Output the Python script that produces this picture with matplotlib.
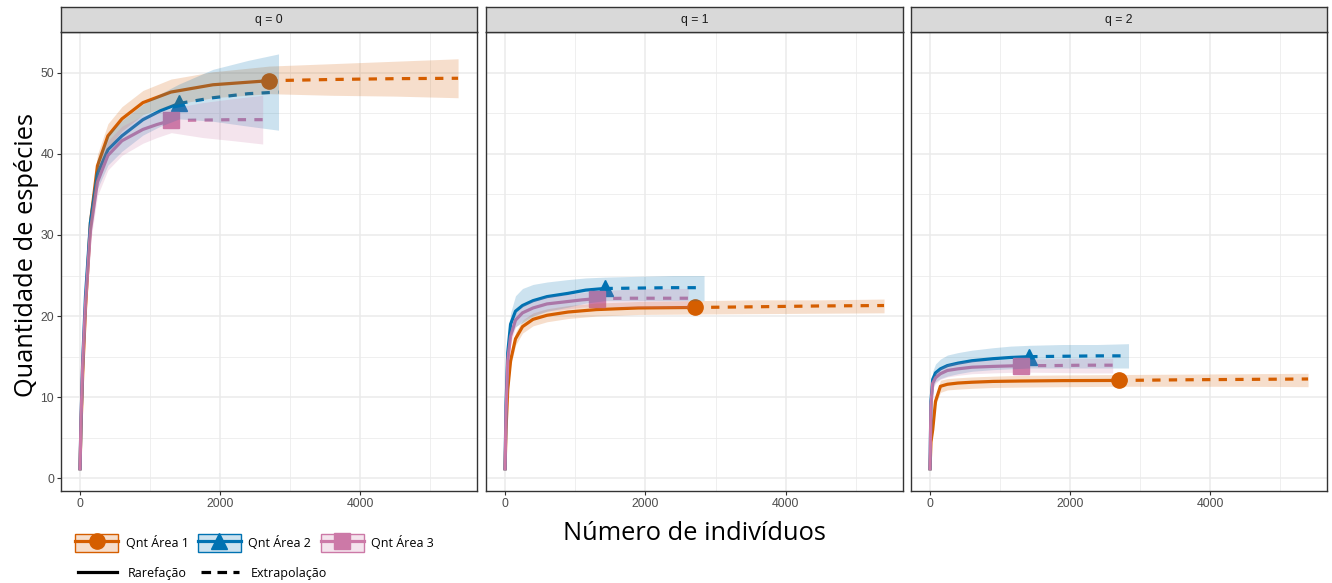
import numpy as np
import matplotlib
matplotlib.use("Agg")
import matplotlib.pyplot as plt
from matplotlib.lines import Line2D
from matplotlib.patches import Patch
from matplotlib.legend_handler import HandlerTuple
from matplotlib.ticker import MultipleLocator

# tamanhos de amostra (eixo x) de cada área; o índice marca a amostra observada
x_a1 = [1, 15, 40, 80, 150, 250, 400, 600, 900, 1300, 1900, 2700, 3600, 4500, 5400]
x_a2 = [1, 15, 40, 80, 150, 250, 400, 600, 900, 1150, 1418, 1900, 2400, 2836]
x_a3 = [1, 15, 40, 80, 150, 250, 400, 600, 900, 1100, 1305, 1750, 2200, 2610]
obs_idx = [11, 10, 10]

areas = ["Qnt Área 1", "Qnt Área 2", "Qnt Área 3"]
q_labels = ["q = 0", "q = 1", "q = 2"]

# q = 0 (estimativa, limite inferior, limite superior) para Área 1, 2, 3
est_q0 = [[1, 6, 13, 21, 31.5, 38.5, 42.2, 44.3, 46.3, 47.6, 48.5, 49.0, 49.15, 49.25, 49.3],
          [1, 7, 14.5, 22.5, 31.5, 37.5, 40.5, 42.2, 44.2, 45.3, 46.2, 46.9, 47.4, 47.6],
          [1, 7, 14, 21.5, 30.5, 36.5, 39.8, 41.6, 43.0, 43.6, 44.1, 44.15, 44.2, 44.2]]
lo_q0 = [[1, 5.6, 12.2, 19.9, 30.2, 37.1, 40.7, 42.8, 44.8, 46.0, 46.9, 47.4, 47.2, 47.1, 46.9],
         [1, 6.5, 13.6, 21.2, 29.9, 35.7, 38.6, 40.3, 42.3, 43.4, 44.3, 44.0, 43.4, 42.9],
         [1, 6.5, 13.1, 20.3, 29.0, 34.8, 38.0, 39.8, 41.3, 42.0, 42.6, 42.0, 41.6, 41.2]]
hi_q0 = [[1, 6.4, 13.8, 22.1, 32.8, 39.9, 43.7, 45.8, 47.8, 49.2, 50.1, 50.8, 51.1, 51.4, 51.7],
         [1, 7.5, 15.4, 23.8, 33.1, 39.3, 42.4, 44.1, 46.1, 47.4, 48.6, 50.4, 51.5, 52.3],
         [1, 7.5, 14.9, 22.7, 32.0, 38.2, 41.6, 43.4, 44.7, 45.2, 45.6, 46.3, 46.8, 47.2]]

# q = 1
est_q1 = [[1, 6, 11, 14.5, 17.2, 18.7, 19.6, 20.1, 20.5, 20.8, 21.0, 21.06, 21.15, 21.25, 21.3],
          [1, 9, 15.5, 19, 20.6, 21.3, 21.9, 22.4, 22.8, 23.2, 23.4, 23.45, 23.5, 23.5],
          [1, 8, 14.5, 17.5, 19.5, 20.4, 21.0, 21.5, 21.8, 22.0, 22.15, 22.2, 22.2, 22.2]]
lo_q1 = [[1, 5.7, 10.5, 13.8, 16.4, 17.9, 18.8, 19.3, 19.7, 20.0, 20.2, 20.25, 20.3, 20.35, 20.4],
         [1, 8.4, 14.4, 17.6, 18.7, 19.2, 20.0, 20.6, 21.1, 21.6, 21.9, 21.9, 21.9, 21.9],
         [1, 7.6, 13.7, 16.6, 18.6, 19.5, 20.1, 20.6, 20.9, 21.1, 21.2, 21.1, 21.0, 21.0]]
hi_q1 = [[1, 6.3, 11.5, 15.2, 18.0, 19.5, 20.4, 20.9, 21.3, 21.6, 21.8, 21.9, 22.0, 22.0, 22.1],
         [1, 9.6, 16.6, 20.4, 22.5, 23.4, 23.9, 24.2, 24.5, 24.7, 24.8, 24.9, 25.0, 25.0],
         [1, 8.4, 15.3, 18.4, 20.4, 21.3, 21.9, 22.4, 22.7, 22.9, 23.1, 23.3, 23.4, 23.4]]

# q = 2
est_q2 = [[1, 4.5, 6.0, 9.5, 11.35, 11.6, 11.75, 11.85, 11.95, 12.0, 12.05, 12.07, 12.15, 12.2, 12.25],
          [1, 9.5, 12.2, 13.0, 13.5, 13.9, 14.2, 14.5, 14.75, 14.9, 15.0, 15.05, 15.1, 15.1],
          [1, 9, 11.7, 12.4, 12.9, 13.3, 13.5, 13.7, 13.8, 13.85, 13.9, 13.9, 13.95, 13.95]]
lo_q2 = [[1, 4.3, 5.7, 9.0, 10.6, 10.9, 11.0, 11.1, 11.2, 11.25, 11.3, 11.35, 11.35, 11.35, 11.3],
         [1, 8.8, 11.2, 11.9, 12.3, 12.6, 12.9, 13.2, 13.4, 13.5, 13.6, 13.6, 13.6, 13.6],
         [1, 8.5, 11.0, 11.7, 12.2, 12.5, 12.7, 12.9, 13.0, 13.05, 13.1, 13.05, 13.0, 13.0]]
hi_q2 = [[1, 4.7, 6.3, 10.0, 12.1, 12.3, 12.4, 12.5, 12.6, 12.7, 12.75, 12.8, 12.85, 12.9, 12.95],
         [1, 10.2, 13.2, 14.1, 14.7, 15.2, 15.5, 15.8, 16.1, 16.3, 16.4, 16.5, 16.5, 16.6],
         [1, 9.5, 12.4, 13.1, 13.6, 14.1, 14.3, 14.5, 14.6, 14.65, 14.7, 14.75, 14.8, 14.8]]

cores = ["#D55E00", "#0072B2", "#CC79A7"]
marcadores = ["o", "^", "s"]
xs = [x_a1, x_a2, x_a3]
est_all = [est_q0, est_q1, est_q2]
lo_all = [lo_q0, lo_q1, lo_q2]
hi_all = [hi_q0, hi_q1, hi_q2]

W, H = 1332, 583
fig = plt.figure(figsize=(W / 100, H / 100), dpi=100)

paineis = [(61, 477), (486, 903), (911, 1327)]
topo, base = 32, 491

for k, (esq, dir_) in enumerate(paineis):
    ax = fig.add_axes([esq / W, 1 - base / H, (dir_ - esq) / W, (base - topo) / H])
    est, lo, hi = est_all[k], lo_all[k], hi_all[k]

    # linhas primeiro, depois as faixas de confiança por cima (como no iNEXT)
    for i in range(3):
        x = np.array(xs[i])
        j = obs_idx[i]
        ax.plot(x[:j + 1], est[i][:j + 1], color=cores[i], lw=2.3, solid_capstyle="butt", zorder=2)
        ax.plot(x[j:], est[i][j:], color=cores[i], lw=2.3, dashes=(2.6, 2.6), zorder=2)
        ax.plot(x[j], est[i][j], marker=marcadores[i], color=cores[i], ms=11, zorder=3)
    for i in range(3):
        ax.fill_between(xs[i], lo[i], hi[i], color=cores[i], alpha=0.2, lw=0, zorder=4)

    ax.set_xlim(-270, 5670)
    ax.set_ylim(-1.55, 55.0)
    ax.xaxis.set_major_locator(MultipleLocator(2000))
    ax.xaxis.set_minor_locator(MultipleLocator(1000))
    ax.yaxis.set_major_locator(MultipleLocator(10))
    ax.yaxis.set_minor_locator(MultipleLocator(5))
    ax.grid(which="major", color="#EBEBEB", lw=1.1, zorder=0)
    ax.grid(which="minor", color="#EBEBEB", lw=0.55, zorder=0)
    ax.set_axisbelow(True)
    ax.tick_params(which="minor", length=0)
    ax.tick_params(which="major", length=3, width=0.8, color="#333333", pad=2,
                   labelsize=8.8, labelcolor="#4D4D4D")
    for lab in ax.get_xticklabels() + ax.get_yticklabels():
        lab.set_fontfamily("Liberation Sans")
    if k > 0:
        ax.tick_params(axis="y", left=False, labelleft=False)
    for s in ax.spines.values():
        s.set_color("#333333")
        s.set_linewidth(1.0)

    # faixa do título do painel
    st = fig.add_axes([esq / W, 1 - topo / H, (dir_ - esq) / W, 25 / H])
    st.set_facecolor("#D9D9D9")
    st.set_xticks([])
    st.set_yticks([])
    for s in st.spines.values():
        s.set_color("#333333")
        s.set_linewidth(1.0)
    st.text(0.5, 0.5, q_labels[k], ha="center", va="center", fontsize=8.8,
            color="#1A1A1A", family="Liberation Sans", transform=st.transAxes)

fig.text(27 / W, 1 - 255 / H, "Quantidade de espécies", rotation=90, ha="center",
         va="center", fontsize=18.3, family="Open Sans")
fig.text(694 / W, 1 - 534 / H, "Número de indivíduos", ha="center", va="center",
         fontsize=18.3, family="Open Sans")

# legenda das áreas (caixa da faixa + linha com marcador sobrepostas)
handles = []
for i in range(3):
    caixa = Patch(facecolor=cores[i], alpha=0.2, edgecolor="none")
    borda = Patch(facecolor="none", edgecolor=cores[i], lw=1.0)
    linha = Line2D([], [], color=cores[i], lw=2.3, marker=marcadores[i], ms=11)
    handles.append((caixa, borda, linha))
leg1 = fig.legend(handles, areas, handler_map={tuple: HandlerTuple(ndivide=1, pad=0)},
                  loc="center left", bbox_to_anchor=(75 / W, 1 - 543 / H), ncol=3,
                  frameon=False, borderpad=0, borderaxespad=0, handlelength=3.45,
                  handleheight=1.76, handletextpad=0.6, columnspacing=0.75,
                  prop={"family": "Open Sans", "size": 9})

metodos = [Line2D([], [], color="black", lw=2.3),
           Line2D([], [], color="black", lw=2.3, dashes=(3.0, 2.0))]
leg2 = fig.legend(metodos, ["Rarefação", "Extrapolação"], loc="center left",
                  bbox_to_anchor=(78 / W, 1 - 573 / H), ncol=2, frameon=False,
                  borderpad=0, borderaxespad=0, handlelength=3.1, handletextpad=0.9,
                  columnspacing=1.1, prop={"family": "Open Sans", "size": 9})

fig.savefig("out.png", dpi=100)
